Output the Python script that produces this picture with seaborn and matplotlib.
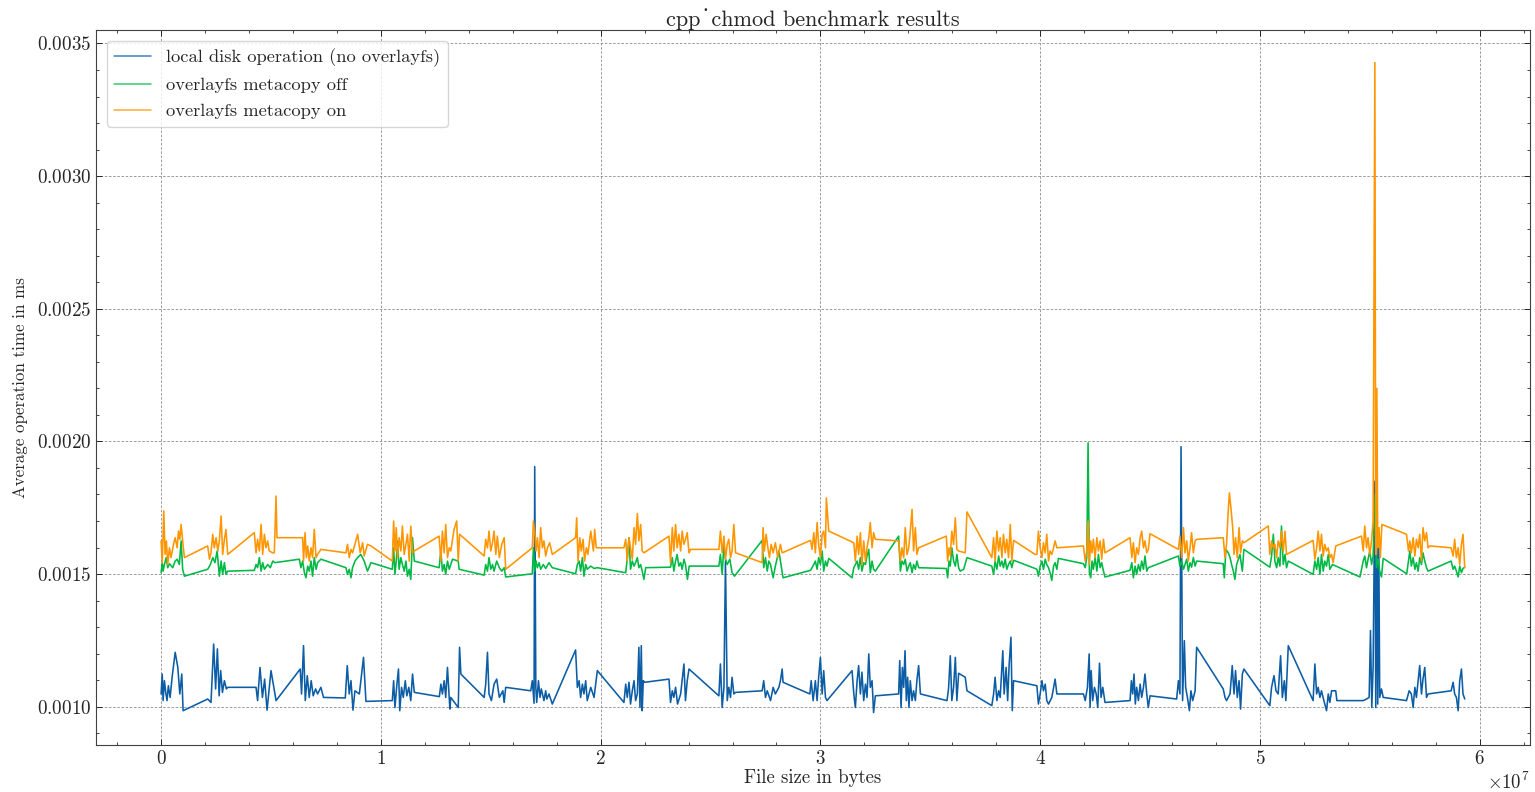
import numpy as np
import pandas as pd
import matplotlib
matplotlib.use("Agg")
import matplotlib.pyplot as plt
from matplotlib.ticker import AutoMinorLocator
import seaborn as sns

# file size in units of 1e7 bytes, time in units of 1e-3 ms

local_x = [0.000, 0.005, 0.009, 0.015, 0.021, 0.027, 0.033, 0.041, 0.050, 0.064, 0.076, 0.085, 0.094, 0.100, 0.212, 0.227, 0.239, 0.248, 0.256, 0.264, 0.271, 0.279, 0.288, 0.297, 0.303, 0.432, 0.439, 0.450, 0.461, 0.471, 0.482, 0.500, 0.523, 0.633, 0.639, 0.648, 0.656, 0.665, 0.674, 0.683, 0.692, 0.703, 0.712, 0.727, 0.739, 0.838, 0.847, 0.856, 0.864, 0.873, 0.882, 0.902, 0.921, 0.932,
           1.052, 1.058, 1.064, 1.073, 1.080, 1.086, 1.094, 1.102, 1.111, 1.118, 1.127, 1.136, 1.144, 1.152, 1.266, 1.273, 1.280, 1.288, 1.295, 1.303, 1.314, 1.318, 1.352, 1.358, 1.364, 1.470, 1.477, 1.485, 1.492, 1.503, 1.515, 1.527, 1.539, 1.555, 1.561, 1.568, 1.682, 1.689, 1.697, 1.700, 1.705, 1.709, 1.717, 1.724, 1.730, 1.742, 1.750, 1.755, 1.765, 1.780, 1.886, 1.894, 1.902, 1.909, 1.917, 1.924, 1.932, 1.939, 1.955,
           1.970, 1.985, 2.106, 2.114, 2.121, 2.129, 2.136, 2.144, 2.152, 2.159, 2.167, 2.174, 2.179, 2.185, 2.189, 2.194, 2.200, 2.311, 2.318, 2.326, 2.333, 2.341, 2.350, 2.364, 2.379, 2.386, 2.394, 2.402, 2.538, 2.545, 2.553, 2.561, 2.568, 2.576, 2.583, 2.591, 2.598, 2.606, 2.614, 2.735, 2.742, 2.750, 2.758, 2.773, 2.785, 2.795, 2.811, 2.818, 2.826, 2.830, 2.952, 2.958, 2.967,
           2.977, 2.985, 2.992, 3.000, 3.008, 3.015, 3.023, 3.030, 3.144, 3.152, 3.159, 3.167, 3.174, 3.182, 3.189, 3.197, 3.205, 3.212, 3.220, 3.227, 3.235, 3.242, 3.250, 3.356, 3.361, 3.367, 3.373, 3.379, 3.385, 3.391, 3.397, 3.403, 3.409, 3.417, 3.424, 3.432, 3.439, 3.447, 3.455, 3.576, 3.583, 3.591, 3.598, 3.606, 3.614, 3.621, 3.629, 3.659, 3.667, 3.780, 3.788, 3.795, 3.803, 3.811, 3.818, 3.830, 3.836, 3.845, 3.852, 3.859, 3.867, 3.873, 3.879,
           3.985, 3.992, 4.000, 4.008, 4.015, 4.023, 4.030, 4.038, 4.053, 4.061, 4.068, 4.076, 4.197, 4.205, 4.215, 4.223, 4.227, 4.232, 4.239, 4.247, 4.255, 4.262, 4.270, 4.277, 4.285, 4.295, 4.409, 4.415, 4.421, 4.427, 4.433, 4.439, 4.447, 4.455, 4.462, 4.470, 4.477, 4.485, 4.492, 4.500, 4.621, 4.629, 4.636, 4.641, 4.648, 4.656, 4.662, 4.670, 4.679, 4.686, 4.694, 4.705, 4.712, 4.833, 4.841, 4.848, 4.864, 4.874, 4.882, 4.889, 4.897, 4.905, 4.912, 4.920, 4.927,
           5.045, 5.053, 5.064, 5.073, 5.083, 5.094, 5.102, 5.111, 5.118, 5.129, 5.242, 5.250, 5.258, 5.265, 5.273, 5.280, 5.291, 5.303, 5.311, 5.318, 5.326, 5.345, 5.350, 5.470, 5.485, 5.497, 5.503, 5.509, 5.515, 5.523, 5.527, 5.532, 5.536, 5.541, 5.545, 5.553, 5.561, 5.667, 5.679, 5.689, 5.697, 5.705, 5.712, 5.720, 5.727, 5.735, 5.742, 5.750, 5.758, 5.765, 5.870, 5.879, 5.886, 5.894, 5.902, 5.909, 5.917, 5.924, 5.932]
local_y = [1.048, 1.123, 1.023, 1.098, 1.054, 1.023, 1.079, 1.035, 1.111, 1.205, 1.148, 1.048, 1.123, 0.985, 1.029, 1.016, 1.236, 1.067, 1.218, 1.041, 1.136, 1.054, 1.098, 1.067, 1.073, 1.073, 1.023, 1.148, 1.035, 1.104, 0.987, 1.136, 1.023, 1.142, 1.048, 1.230, 1.023, 1.117, 1.035, 1.098, 1.041, 1.067, 1.048, 1.073, 1.035, 1.033, 1.155, 1.048, 1.098, 0.987, 1.060, 1.048, 1.186, 1.020,
           1.023, 1.098, 0.997, 1.085, 1.142, 0.985, 1.073, 1.035, 1.098, 1.041, 1.073, 1.023, 1.123, 1.054, 1.038, 1.085, 1.048, 1.098, 1.035, 1.148, 0.991, 1.035, 0.997, 1.224, 1.123, 1.035, 1.085, 1.205, 1.048, 1.023, 1.085, 1.104, 1.035, 1.060, 1.016, 1.073, 1.060, 1.098, 1.013, 1.905, 1.073, 1.016, 1.098, 1.035, 1.067, 1.023, 1.060, 1.029, 1.048, 1.010, 1.214, 1.073, 1.098, 1.035, 1.085, 1.048, 1.098, 1.023, 1.073,
           1.035, 1.136, 1.016, 1.085, 1.035, 1.092, 1.010, 1.060, 1.098, 1.023, 1.048, 1.224, 0.997, 1.230, 0.985, 1.098, 1.092, 1.104, 1.016, 1.060, 1.035, 1.073, 1.010, 1.048, 1.161, 1.023, 1.098, 1.142, 1.041, 1.161, 0.997, 1.073, 1.550, 1.023, 1.073, 1.035, 1.111, 1.048, 1.054, 1.060, 1.098, 1.035, 1.060, 1.023, 1.073, 1.048, 1.073, 1.098, 1.142, 1.092, 1.048, 1.098, 1.023,
           1.098, 1.023, 1.111, 1.186, 1.048, 1.136, 1.035, 1.023, 1.136, 1.048, 0.997, 1.098, 1.155, 1.048, 1.130, 1.023, 1.085, 1.035, 1.199, 1.073, 1.098, 0.978, 1.041, 1.048, 1.174, 0.997, 1.148, 1.073, 1.211, 1.023, 1.111, 0.997, 1.098, 1.023, 1.060, 1.023, 1.098, 1.155, 1.048, 1.023, 1.067, 1.192, 1.023, 1.073, 1.186, 1.023, 1.126, 1.111, 1.060, 1.004, 1.048, 1.111, 1.023, 1.060, 1.035, 1.211, 1.048, 1.148, 1.023, 1.161, 1.262, 0.985, 1.098,
           1.079, 1.010, 1.048, 1.098, 1.060, 1.085, 1.023, 1.010, 1.035, 1.073, 1.104, 1.048, 1.048, 1.023, 1.073, 1.199, 0.997, 1.136, 1.023, 1.073, 1.048, 0.997, 1.164, 1.035, 1.073, 1.016, 1.023, 1.098, 1.048, 1.123, 1.010, 1.073, 1.023, 1.085, 1.035, 1.073, 1.123, 1.048, 0.997, 1.041, 1.029, 1.098, 1.048, 1.980, 1.023, 1.249, 1.073, 1.035, 0.985, 1.060, 1.023, 1.060, 1.224, 1.067, 1.035, 1.023, 1.048, 1.155, 1.048, 1.136, 1.035, 1.098, 0.991, 1.123, 1.142,
           1.004, 1.073, 1.117, 1.060, 1.048, 1.192, 1.035, 1.098, 1.023, 1.230, 1.023, 1.161, 1.048, 1.073, 1.035, 1.060, 1.023, 0.985, 1.048, 1.016, 1.060, 1.060, 1.023, 1.023, 1.029, 1.035, 1.287, 0.997, 1.148, 1.850, 0.997, 1.750, 1.010, 1.600, 1.035, 1.067, 1.035, 1.023, 1.060, 1.048, 0.997, 1.073, 1.035, 1.098, 1.155, 1.048, 1.104, 1.148, 1.035, 1.048, 1.060, 1.092, 1.048, 1.035, 0.985, 1.098, 1.142, 1.048, 1.029]

off_x = [0.000, 0.005, 0.009, 0.015, 0.023, 0.030, 0.038, 0.053, 0.064, 0.073, 0.083, 0.091, 0.098, 0.106, 0.212, 0.224, 0.235, 0.245, 0.255, 0.265, 0.273, 0.280, 0.288, 0.295, 0.303, 0.424, 0.432, 0.439, 0.447, 0.455, 0.462, 0.470, 0.485, 0.497, 0.508, 0.518, 0.629, 0.636, 0.644, 0.652, 0.659, 0.667, 0.674, 0.682, 0.689, 0.697, 0.705, 0.712, 0.727, 0.841, 0.848, 0.856, 0.864, 0.871, 0.882, 0.894, 0.909, 0.924, 0.939, 0.955,
         1.052, 1.058, 1.064, 1.070, 1.076, 1.083, 1.091, 1.098, 1.106, 1.114, 1.121, 1.129, 1.136, 1.144, 1.152, 1.265, 1.273, 1.280, 1.288, 1.295, 1.303, 1.311, 1.326, 1.352, 1.356, 1.470, 1.477, 1.485, 1.492, 1.500, 1.508, 1.515, 1.527, 1.539, 1.550, 1.561, 1.568, 1.689, 1.694, 1.700, 1.706, 1.712, 1.720, 1.727, 1.739, 1.750, 1.765, 1.780, 1.886, 1.894, 1.902, 1.909, 1.917, 1.924, 1.932, 1.939, 1.955, 1.970,
         1.985, 2.114, 2.121, 2.129, 2.136, 2.144, 2.152, 2.159, 2.167, 2.174, 2.182, 2.189, 2.197, 2.205, 2.318, 2.326, 2.333, 2.341, 2.348, 2.356, 2.364, 2.371, 2.379, 2.386, 2.395, 2.403, 2.538, 2.545, 2.553, 2.561, 2.568, 2.576, 2.588, 2.598, 2.609, 2.735, 2.742, 2.750, 2.758, 2.765, 2.773, 2.785, 2.795, 2.811, 2.818, 2.830, 2.955, 2.970,
         2.977, 2.985, 2.992, 3.000, 3.008, 3.015, 3.023, 3.030, 3.038, 3.144, 3.152, 3.159, 3.167, 3.174, 3.182, 3.189, 3.197, 3.205, 3.212, 3.220, 3.227, 3.235, 3.242, 3.250, 3.356, 3.364, 3.371, 3.379, 3.386, 3.394, 3.402, 3.409, 3.417, 3.424, 3.432, 3.439, 3.447, 3.573, 3.579, 3.585, 3.591, 3.598, 3.606, 3.614, 3.621, 3.629, 3.636, 3.652, 3.667, 3.780, 3.788, 3.795, 3.803, 3.811, 3.818, 3.826, 3.833, 3.841, 3.848, 3.856, 3.864, 3.871, 3.879, 3.977,
         3.985, 3.992, 4.000, 4.008, 4.015, 4.023, 4.030, 4.038, 4.045, 4.053, 4.061, 4.068, 4.076, 4.083, 4.197, 4.205, 4.212, 4.218, 4.224, 4.230, 4.236, 4.242, 4.250, 4.258, 4.265, 4.273, 4.280, 4.288, 4.295, 4.409, 4.417, 4.424, 4.432, 4.439, 4.447, 4.455, 4.462, 4.470, 4.477, 4.485, 4.492, 4.629, 4.636, 4.644, 4.652, 4.659, 4.667, 4.674, 4.682, 4.689, 4.697, 4.705, 4.712, 4.833, 4.838, 4.845, 4.856, 4.864, 4.871, 4.879, 4.886, 4.894, 4.902, 4.909, 4.920, 4.927,
         5.045, 5.053, 5.061, 5.068, 5.076, 5.083, 5.091, 5.098, 5.106, 5.114, 5.121, 5.129, 5.242, 5.250, 5.258, 5.265, 5.273, 5.280, 5.288, 5.295, 5.303, 5.311, 5.318, 5.330, 5.455, 5.470, 5.477, 5.485, 5.492, 5.500, 5.508, 5.515, 5.524, 5.530, 5.538, 5.545, 5.553, 5.561, 5.668, 5.676, 5.682, 5.689, 5.697, 5.705, 5.712, 5.720, 5.727, 5.735, 5.742, 5.750, 5.758, 5.765, 5.870, 5.879, 5.886, 5.894, 5.902, 5.909, 5.917, 5.924, 5.932]
off_y = [1.505, 1.543, 1.511, 1.536, 1.562, 1.524, 1.539, 1.524, 1.549, 1.556, 1.536, 1.625, 1.518, 1.492, 1.518, 1.536, 1.562, 1.543, 1.587, 1.492, 1.549, 1.499, 1.543, 1.499, 1.511, 1.514, 1.536, 1.524, 1.562, 1.511, 1.543, 1.518, 1.536, 1.524, 1.549, 1.543, 1.556, 1.524, 1.549, 1.505, 1.486, 1.530, 1.511, 1.549, 1.492, 1.562, 1.518, 1.543, 1.556, 1.524, 1.499, 1.518, 1.486, 1.524, 1.549, 1.562, 1.574, 1.549, 1.511, 1.543,
         1.518, 1.599, 1.499, 1.549, 1.625, 1.518, 1.562, 1.536, 1.511, 1.549, 1.492, 1.518, 1.480, 1.637, 1.549, 1.524, 1.587, 1.511, 1.536, 1.499, 1.549, 1.518, 1.556, 1.549, 1.518, 1.496, 1.536, 1.511, 1.562, 1.518, 1.536, 1.511, 1.549, 1.524, 1.511, 1.524, 1.489, 1.501, 1.599, 1.511, 1.549, 1.524, 1.543, 1.518, 1.536, 1.521, 1.543, 1.524, 1.501, 1.536, 1.549, 1.511, 1.562, 1.492, 1.536, 1.518, 1.530, 1.521,
         1.524, 1.505, 1.556, 1.637, 1.518, 1.549, 1.530, 1.543, 1.562, 1.524, 1.536, 1.511, 1.480, 1.524, 1.526, 1.562, 1.511, 1.549, 1.574, 1.530, 1.543, 1.518, 1.556, 1.536, 1.480, 1.530, 1.530, 1.574, 1.499, 1.612, 1.556, 1.536, 1.556, 1.505, 1.492, 1.627, 1.524, 1.562, 1.511, 1.549, 1.536, 1.486, 1.530, 1.587, 1.549, 1.486, 1.514, 1.536,
         1.549, 1.518, 1.562, 1.536, 1.587, 1.511, 1.549, 1.530, 1.559, 1.486, 1.524, 1.536, 1.549, 1.518, 1.562, 1.511, 1.543, 1.536, 1.568, 1.593, 1.505, 1.549, 1.518, 1.511, 1.643, 1.511, 1.549, 1.536, 1.556, 1.511, 1.530, 1.543, 1.505, 1.536, 1.518, 1.549, 1.524, 1.521, 1.486, 1.549, 1.530, 1.599, 1.549, 1.530, 1.574, 1.524, 1.511, 1.518, 1.562, 1.530, 1.499, 1.549, 1.518, 1.568, 1.530, 1.549, 1.524, 1.556, 1.518, 1.536, 1.549, 1.524, 1.552, 1.521,
         1.518, 1.492, 1.530, 1.549, 1.518, 1.556, 1.536, 1.524, 1.505, 1.476, 1.530, 1.543, 1.518, 1.559, 1.539, 1.524, 1.562, 1.995, 1.505, 1.486, 1.549, 1.518, 1.562, 1.511, 1.574, 1.524, 1.543, 1.511, 1.489, 1.514, 1.543, 1.486, 1.530, 1.499, 1.536, 1.511, 1.549, 1.518, 1.568, 1.511, 1.524, 1.568, 1.530, 1.549, 1.518, 1.536, 1.556, 1.511, 1.543, 1.526, 1.562, 1.530, 1.549, 1.539, 1.486, 1.593, 1.580, 1.562, 1.536, 1.511, 1.480, 1.536, 1.556, 1.574, 1.511, 1.593,
         1.526, 1.568, 1.650, 1.549, 1.524, 1.562, 1.530, 1.681, 1.536, 1.574, 1.524, 1.549, 1.499, 1.549, 1.518, 1.562, 1.499, 1.574, 1.511, 1.549, 1.530, 1.574, 1.518, 1.536, 1.489, 1.549, 1.568, 1.524, 1.556, 1.587, 1.536, 1.568, 1.800, 1.524, 1.556, 1.511, 1.489, 1.559, 1.501, 1.549, 1.587, 1.530, 1.562, 1.518, 1.543, 1.511, 1.562, 1.536, 1.580, 1.549, 1.524, 1.511, 1.549, 1.518, 1.530, 1.511, 1.489, 1.530, 1.505, 1.521, 1.526]

on_x = [0.000, 0.005, 0.012, 0.018, 0.024, 0.030, 0.038, 0.045, 0.058, 0.064, 0.073, 0.079, 0.085, 0.091, 0.098, 0.106, 0.212, 0.220, 0.227, 0.235, 0.242, 0.250, 0.258, 0.265, 0.273, 0.280, 0.288, 0.295, 0.303, 0.424, 0.432, 0.439, 0.447, 0.455, 0.462, 0.470, 0.477, 0.485, 0.492, 0.508, 0.515, 0.523, 0.527, 0.644, 0.648, 0.655, 0.661, 0.667, 0.674, 0.682, 0.689, 0.697, 0.705, 0.712, 0.727, 0.841, 0.848, 0.856, 0.864, 0.871, 0.882, 0.894, 0.906, 0.917, 0.924, 0.939, 0.955,
        1.052, 1.058, 1.064, 1.070, 1.076, 1.083, 1.091, 1.098, 1.106, 1.114, 1.121, 1.129, 1.136, 1.144, 1.152, 1.265, 1.273, 1.280, 1.288, 1.295, 1.303, 1.311, 1.318, 1.333, 1.345, 1.352, 1.358, 1.470, 1.477, 1.485, 1.492, 1.500, 1.508, 1.515, 1.523, 1.530, 1.539, 1.550, 1.561, 1.568, 1.689, 1.694, 1.700, 1.706, 1.712, 1.720, 1.727, 1.735, 1.742, 1.750, 1.758, 1.768, 1.780, 1.886, 1.891, 1.897, 1.905, 1.912, 1.920, 1.927, 1.935, 1.942, 1.955,
        1.967, 1.973, 1.980, 1.985, 2.106, 2.114, 2.121, 2.129, 2.136, 2.144, 2.152, 2.159, 2.167, 2.174, 2.182, 2.189, 2.197, 2.311, 2.318, 2.326, 2.333, 2.341, 2.348, 2.356, 2.364, 2.371, 2.379, 2.386, 2.394, 2.402, 2.409, 2.538, 2.545, 2.553, 2.561, 2.568, 2.576, 2.583, 2.591, 2.598, 2.606, 2.614, 2.735, 2.739, 2.745, 2.753, 2.761, 2.768, 2.776, 2.785, 2.795, 2.806, 2.818, 2.826, 2.955, 2.962,
        2.970, 2.977, 2.985, 2.992, 3.000, 3.008, 3.015, 3.023, 3.027, 3.038, 3.152, 3.159, 3.167, 3.174, 3.182, 3.189, 3.197, 3.205, 3.212, 3.220, 3.227, 3.235, 3.242, 3.250, 3.356, 3.364, 3.371, 3.379, 3.386, 3.394, 3.402, 3.409, 3.417, 3.424, 3.432, 3.439, 3.447, 3.573, 3.579, 3.585, 3.591, 3.598, 3.606, 3.614, 3.621, 3.629, 3.659, 3.667, 3.780, 3.788, 3.795, 3.803, 3.811, 3.818, 3.826, 3.833, 3.841, 3.848, 3.856, 3.864, 3.871, 3.879, 3.977,
        3.985, 3.992, 4.000, 4.008, 4.015, 4.023, 4.030, 4.038, 4.045, 4.053, 4.061, 4.068, 4.076, 4.197, 4.205, 4.212, 4.218, 4.224, 4.230, 4.236, 4.242, 4.250, 4.258, 4.265, 4.273, 4.280, 4.288, 4.295, 4.409, 4.417, 4.424, 4.432, 4.439, 4.447, 4.455, 4.462, 4.470, 4.477, 4.485, 4.492, 4.500, 4.629, 4.636, 4.644, 4.652, 4.659, 4.667, 4.674, 4.682, 4.689, 4.697, 4.705, 4.712, 4.833, 4.841, 4.848, 4.856, 4.861, 4.868, 4.876, 4.882, 4.889, 4.897, 4.905, 4.912, 4.920, 4.927,
        5.038, 5.045, 5.053, 5.061, 5.068, 5.076, 5.083, 5.091, 5.098, 5.106, 5.114, 5.121, 5.242, 5.250, 5.258, 5.265, 5.273, 5.280, 5.288, 5.295, 5.303, 5.311, 5.318, 5.326, 5.333, 5.345, 5.462, 5.470, 5.477, 5.485, 5.492, 5.500, 5.508, 5.515, 5.523, 5.527, 5.532, 5.536, 5.542, 5.548, 5.555, 5.667, 5.676, 5.682, 5.689, 5.697, 5.705, 5.712, 5.720, 5.727, 5.735, 5.742, 5.750, 5.758, 5.765, 5.773, 5.870, 5.879, 5.886, 5.894, 5.902, 5.909, 5.917, 5.924, 5.932]
on_y = [1.625, 1.543, 1.738, 1.574, 1.625, 1.536, 1.599, 1.562, 1.618, 1.637, 1.599, 1.662, 1.631, 1.687, 1.625, 1.562, 1.606, 1.556, 1.580, 1.650, 1.599, 1.637, 1.587, 1.625, 1.719, 1.574, 1.631, 1.668, 1.574, 1.656, 1.580, 1.631, 1.587, 1.687, 1.574, 1.650, 1.599, 1.625, 1.587, 1.580, 1.580, 1.794, 1.637, 1.637, 1.549, 1.656, 1.562, 1.606, 1.549, 1.599, 1.562, 1.668, 1.562, 1.574, 1.593, 1.580, 1.612, 1.562, 1.593, 1.580, 1.612, 1.650, 1.580, 1.618, 1.568, 1.612, 1.606,
        1.549, 1.700, 1.587, 1.675, 1.562, 1.637, 1.587, 1.681, 1.574, 1.612, 1.650, 1.549, 1.681, 1.580, 1.587, 1.643, 1.549, 1.662, 1.580, 1.687, 1.562, 1.599, 1.587, 1.668, 1.700, 1.549, 1.650, 1.568, 1.631, 1.599, 1.662, 1.587, 1.618, 1.662, 1.574, 1.643, 1.562, 1.612, 1.637, 1.518, 1.599, 1.700, 1.662, 1.587, 1.637, 1.562, 1.675, 1.599, 1.625, 1.568, 1.599, 1.618, 1.574, 1.637, 1.712, 1.549, 1.637, 1.587, 1.631, 1.549, 1.599, 1.574, 1.662,
        1.587, 1.668, 1.599, 1.599, 1.599, 1.631, 1.549, 1.637, 1.599, 1.556, 1.675, 1.612, 1.728, 1.625, 1.687, 1.587, 1.580, 1.643, 1.543, 1.675, 1.587, 1.687, 1.599, 1.650, 1.587, 1.662, 1.612, 1.631, 1.656, 1.580, 1.593, 1.593, 1.662, 1.580, 1.643, 1.556, 1.612, 1.631, 1.562, 1.587, 1.687, 1.580, 1.543, 1.675, 1.587, 1.650, 1.599, 1.562, 1.612, 1.580, 1.618, 1.562, 1.612, 1.580, 1.627, 1.593,
        1.656, 1.580, 1.694, 1.612, 1.562, 1.650, 1.662, 1.599, 1.787, 1.662, 1.618, 1.549, 1.643, 1.574, 1.656, 1.536, 1.625, 1.549, 1.599, 1.637, 1.694, 1.599, 1.656, 1.631, 1.625, 1.549, 1.599, 1.562, 1.675, 1.574, 1.599, 1.662, 1.744, 1.587, 1.675, 1.574, 1.599, 1.643, 1.549, 1.599, 1.568, 1.662, 1.612, 1.712, 1.593, 1.587, 1.580, 1.734, 1.562, 1.637, 1.549, 1.662, 1.587, 1.637, 1.562, 1.650, 1.580, 1.631, 1.562, 1.687, 1.549, 1.627, 1.574,
        1.574, 1.662, 1.599, 1.562, 1.618, 1.580, 1.650, 1.549, 1.587, 1.574, 1.599, 1.625, 1.599, 1.606, 1.549, 1.587, 1.700, 1.536, 1.625, 1.580, 1.631, 1.562, 1.637, 1.587, 1.625, 1.556, 1.631, 1.580, 1.637, 1.562, 1.618, 1.543, 1.599, 1.574, 1.637, 1.662, 1.599, 1.625, 1.580, 1.593, 1.652, 1.593, 1.643, 1.562, 1.675, 1.580, 1.625, 1.549, 1.599, 1.656, 1.580, 1.625, 1.631, 1.637, 1.562, 1.612, 1.740, 1.806, 1.750, 1.675, 1.574, 1.637, 1.562, 1.675, 1.580, 1.625, 1.618,
        1.681, 1.574, 1.625, 1.599, 1.612, 1.562, 1.625, 1.599, 1.662, 1.587, 1.662, 1.574, 1.627, 1.556, 1.599, 1.662, 1.587, 1.650, 1.568, 1.612, 1.587, 1.599, 1.562, 1.574, 1.543, 1.606, 1.643, 1.587, 1.681, 1.599, 1.637, 1.574, 1.625, 1.700, 3.428, 1.574, 2.200, 1.599, 1.675, 1.562, 1.687, 1.650, 1.587, 1.625, 1.580, 1.637, 1.568, 1.631, 1.599, 1.650, 1.549, 1.675, 1.625, 1.656, 1.599, 1.606, 1.599, 1.568, 1.631, 1.562, 1.599, 1.536, 1.612, 1.650, 1.524]

series = [
    ("local disk operation (no overlayfs)", local_x, local_y, "#0C5DA5"),
    ("overlayfs metacopy off", off_x, off_y, "#00B945"),
    ("overlayfs metacopy on", on_x, on_y, "#FF9500"),
]

sns.set_theme(style="ticks")
plt.rcParams.update({
    "font.family": ["cmr10", "DejaVu Serif"],
    "mathtext.fontset": "cm",
    "axes.formatter.use_mathtext": True,
    "axes.unicode_minus": False,
    "font.size": 13,
    "axes.linewidth": 0.8,
    "xtick.direction": "in",
    "ytick.direction": "in",
    "xtick.top": True,
    "ytick.right": True,
    "xtick.major.size": 4.5,
    "ytick.major.size": 4.5,
    "xtick.minor.size": 2.2,
    "ytick.minor.size": 2.2,
    "xtick.major.width": 0.7,
    "ytick.major.width": 0.7,
    "xtick.minor.width": 0.6,
    "ytick.minor.width": 0.6,
    "axes.edgecolor": "0.25",
})

fig, ax = plt.subplots(figsize=(15.35, 7.92), dpi=100)
fig.subplots_adjust(left=0.0625, right=0.9967, top=0.962, bottom=0.0593)

for label, xs, ys, color in series:
    df = pd.DataFrame({"size": np.array(xs) * 1e7, "time": np.array(ys) * 1e-3})
    sns.lineplot(data=df, x="size", y="time", ax=ax, color=color, label=label,
                 linewidth=1.15, estimator=None, sort=True)

ax.xaxis.set_minor_locator(AutoMinorLocator())
ax.yaxis.set_minor_locator(AutoMinorLocator())
ax.tick_params(which="both", labelsize=13.8, colors="0.15")
ax.grid(True, which="major", color="0.55", linestyle=(0, (3, 2)), linewidth=0.6)

ax.set_title("cpp\u02d9chmod benchmark results", fontsize=16, pad=2)
ax.set_xlabel("File size in bytes", fontsize=13.5, labelpad=1)
ax.set_ylabel("Average operation time in ms", fontsize=12.2, labelpad=6)
ax.xaxis.get_offset_text().set_fontsize(13.5)

leg = ax.legend(loc="upper left", fontsize=13.3, frameon=True, fancybox=True,
                framealpha=0.8, edgecolor="0.8", borderaxespad=0.6,
                labelspacing=0.55, handlelength=2.0)
for line in leg.get_lines():
    line.set_alpha(0.75)

fig.savefig("out.png", dpi=100)
